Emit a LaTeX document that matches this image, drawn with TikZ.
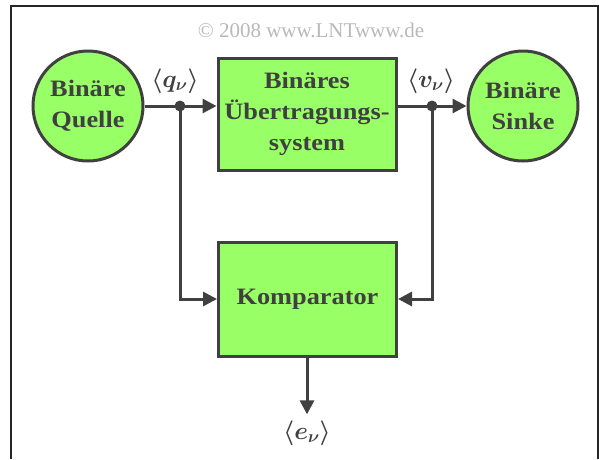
\documentclass[tikz,border=0pt]{standalone}
\usepackage{amsmath}
\usepackage{bm}
\usepackage{fontspec}
\setmainfont{Liberation Serif}
\newfontfamily\boxfont[FakeStretch=1.12]{Liberation Serif}
\usetikzlibrary{arrows.meta}
\definecolor{lgreen}{RGB}{153,255,102}
\definecolor{dgray}{RGB}{64,64,64}
\definecolor{cgray}{RGB}{185,185,185}
\tikzset{
  blk/.style={draw=dgray, fill=lgreen, line width=3pt, text=dgray, align=center,
     font=\boxfont\bfseries\fontsize{23.5}{31}\selectfont, inner sep=0pt},
  circ/.style={blk, circle, minimum size=110pt},
  rbox/.style={blk, rectangle, minimum width=178pt},
  wire/.style={draw=dgray, line width=3pt},
  arr/.style={wire, -{Triangle[length=14pt,width=14pt]}},
  lab/.style={text=dgray, font=\boldmath\fontsize{27}{30}\selectfont, inner sep=0pt},
  dot/.style={circle, fill=dgray, minimum size=11pt, inner sep=0pt}
}
\begin{document}
\begin{tikzpicture}[x=1pt,y=-1pt]
\useasboundingbox (0,0) rectangle (599,459);
% frame
\draw[line width=2pt, black!85] (11,459) -- (11,6) -- (597.5,6) -- (597.5,459);
\node[text=cgray, font=\fontsize{21}{24}\selectfont] (copy) at (311,30) {\textcopyright{} 2008 www.LNTwww.de};
% blocks
\node[circ] (src) at (88,106) {Binäre\\Quelle};
\node[rbox, minimum height=112pt] (sys) at (307,114) {Binäres\\Übertragungs-\\system};
\node[circ] (snk) at (523,106) {Binäre\\Sinke};
\node[rbox, minimum height=114pt] (cmp) at (307.5,299) {Komparator};
% junctions
\node[dot] (j1) at (180,106) {};
\node[dot] (j2) at (432,106) {};
% labels
\node[lab] (lq) at (175,81) {$\langle q_{\nu}\rangle$};
\node[lab] (lv) at (431,81) {$\langle v_{\nu}\rangle$};
\node[lab] (le) at (307,433) {$\langle e_{\nu}\rangle$};
% connectors
\draw[wire] (src) -- (j1.center);
\draw[arr] (j1.center) -- (j1 -| sys.west);
\draw[wire] (j2 -| sys.east) -- (j2.center);
\draw[arr] (j2.center) -- (snk);
\draw[arr] (j1.center) |- (cmp.west);
\draw[arr] (j2.center) |- (cmp.east);
\draw[arr, shorten >=6pt] (cmp.south -| le) -- (le.north);
\end{tikzpicture}
\end{document}
